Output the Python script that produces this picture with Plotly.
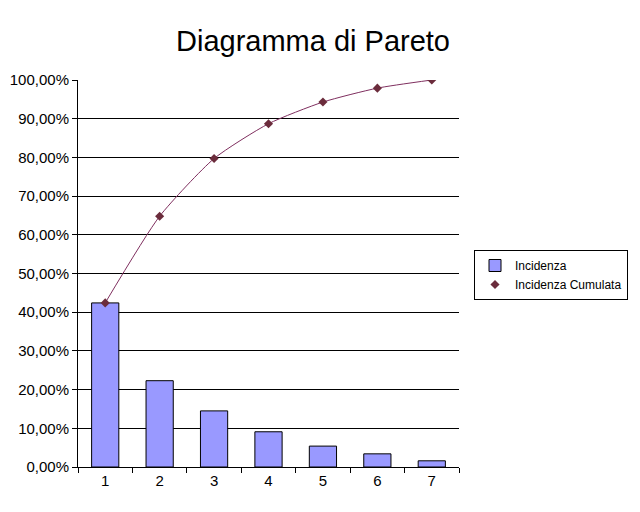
import plotly.graph_objects as go

categories = ["1", "2", "3", "4", "5", "6", "7"]
incidenza = [0.424, 0.223, 0.145, 0.091, 0.054, 0.034, 0.016]
cumulata = [0.424, 0.648, 0.797, 0.887, 0.943, 0.979, 1.0]
y_ticks = [i / 10 for i in range(11)]

font = "Liberation Sans, Arial, sans-serif"

fig = go.Figure()
fig.add_trace(go.Bar(
    x=categories, y=incidenza, name="Incidenza",
    marker=dict(color="#9999ff", line=dict(color="black", width=1)),
    width=0.5,
))
fig.add_trace(go.Scatter(
    x=categories, y=cumulata, mode="lines", line=dict(color="#7f2f5f", width=1, shape="spline", smoothing=0.6),
    showlegend=False, hoverinfo="skip",
))
fig.add_trace(go.Scatter(
    x=categories, y=cumulata, mode="markers", name="Incidenza Cumulata",
    marker=dict(symbol="diamond", size=7, color="#6b2c3c"),
))

W, H = 632, 504
fig.update_layout(
    width=W, height=H,
    paper_bgcolor="white", plot_bgcolor="white",
    separators=",.",
    margin=dict(l=70, r=181, t=72, b=45),
    title=dict(text="Diagramma di Pareto", xref="container", yref="container",
               x=(313 - 8) / W, xanchor="center", y=1 - (41 - 8) / H, yanchor="middle",
               font=dict(family=font, size=29, color="black")),
    font=dict(family=font, size=14, color="black"),
    showlegend=True,
    legend=dict(xref="container", yref="container", x=(474 - 8) / W, y=1 - (250 - 8) / H,
                xanchor="left", yanchor="top",
                bordercolor="black", borderwidth=1, bgcolor="white",
                font=dict(size=12), itemwidth=30, tracegroupgap=0),
    bargap=0.5,
)
fig.update_xaxes(type="category", tickson="boundaries", ticks="outside", ticklen=5,
                 tickcolor="black", showline=True, linecolor="black", linewidth=1,
                 showgrid=False, tickfont=dict(size=15), automargin=False)
fig.update_yaxes(range=[0, 1], tickvals=y_ticks, tickformat=".2%", ticks="outside", ticklen=5,
                 tickcolor="black", showline=True, linecolor="black", linewidth=1,
                 showgrid=True, gridcolor="black", gridwidth=1, zeroline=False,
                 tickfont=dict(size=15), automargin=False)

fig.write_html("out.html")
